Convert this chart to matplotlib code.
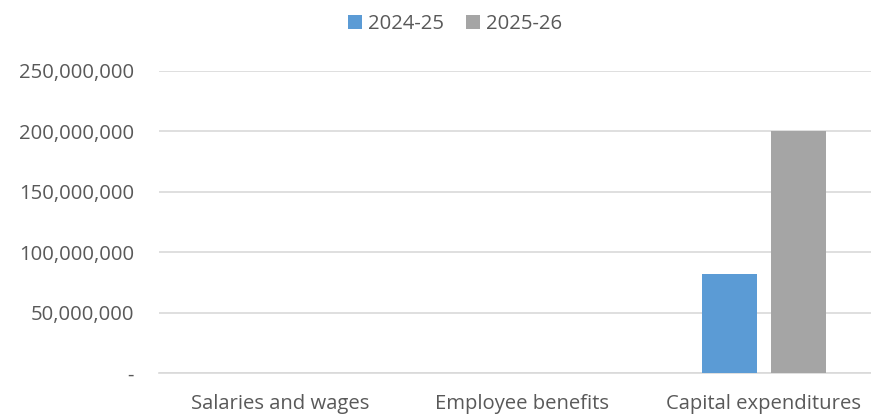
import matplotlib
matplotlib.use("Agg")
import matplotlib.pyplot as plt
import numpy as np
from matplotlib.ticker import FuncFormatter

categories = ["Salaries and wages", "Employee benefits", "Capital expenditures"]
series_names = ["2024-25", "2025-26"]
values_2024_25 = [0, 0, 82_000_000]
values_2025_26 = [0, 0, 200_500_000]
colors = ["#5B9BD5", "#A5A5A5"]

plt.rcParams["font.family"] = ["Open Sans", "DejaVu Sans"]

fig = plt.figure(figsize=(8.71, 4.17), dpi=100)
W, H = 871, 417
ax = fig.add_axes([159 / W, (H - 373) / H, 726 / W, (373 - 71) / H])

x = np.arange(len(categories))
bw = 0.227
gap = 0.058
off = (bw + gap) / 2
ax.bar(x - off, values_2024_25, bw, color=colors[0], label=series_names[0], zorder=3)
ax.bar(x + off, values_2025_26, bw, color=colors[1], label=series_names[1], zorder=3)

ax.set_xlim(-0.5, 2.5)
ax.set_ylim(0, 250_000_000)
ax.set_yticks(np.arange(0, 250_000_001, 50_000_000))
ax.yaxis.set_major_formatter(FuncFormatter(lambda v, p: "-" if v == 0 else f"{int(v):,}"))
ax.set_xticks(x)
ax.set_xticklabels(categories)

ax.grid(axis="y", color="#D9D9D9", linewidth=1.2, zorder=0)
for s in ["top", "right", "left"]:
    ax.spines[s].set_visible(False)
ax.spines["bottom"].set_color("#D9D9D9")
ax.spines["bottom"].set_linewidth(1.2)
ax.tick_params(axis="both", length=0, labelsize=14.6, colors="#595959")
ax.tick_params(axis="y", pad=18)
ax.tick_params(axis="x", pad=15)
for lbl in ax.get_yticklabels():
    lbl.set_horizontalalignment("right")

leg = fig.legend(loc="upper center", bbox_to_anchor=(455 / W, 1.01), ncol=2, frameon=False,
                 fontsize=14.6, handlelength=0.7, handleheight=0.7, handletextpad=0.3,
                 columnspacing=1.1, labelcolor="#595959")

fig.savefig("out.png", dpi=100)
